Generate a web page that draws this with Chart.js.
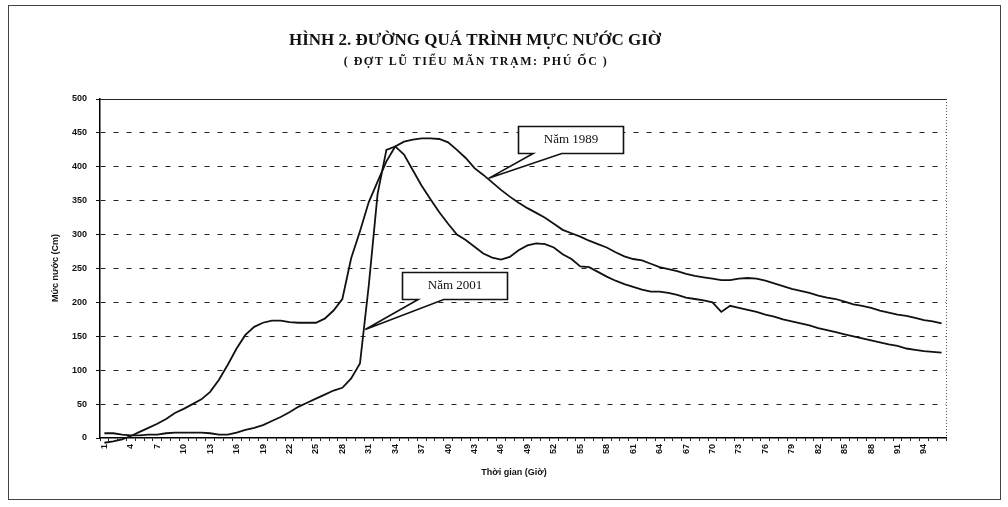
<!DOCTYPE html>
<html><head><meta charset="utf-8">
<script src="https://cdn.jsdelivr.net/npm/chart.js@4.4.0/dist/chart.umd.min.js"></script>
<style>html,body{margin:0;padding:0;background:#fff}#wrap{width:1008px;height:507px}</style>
</head><body><div id="wrap"><canvas id="c" width="1008" height="507"></canvas></div>
<script>
const hours = ['1','2','3','4','5','6','7','8','9','10','11','12','13','14','15','16','17','18','19','20',
  '21','22','23','24','25','26','27','28','29','30','31','32','33','34','35','36','37','38','39','40',
  '41','42','43','44','45','46','47','48','49','50','51','52','53','54','55','56','57','58','59','60',
  '61','62','63','64','65','66','67','68','69','70','71','72','73','74','75','76','77','78','79','80',
  '81','82','83','84','85','86','87','88','89','90','91','92','93','94','95','96'];
const tickLabels = ['1','4','7','10','13','16','19','22','25','28','31','34','37','40','43','46','49','52',
  '55','58','61','64','67','70','73','76','79','82','85','88','91','94'];
const level1989 = [-7,-5,-2,3,9,15,21,28,37,43,50,57,68,86,108,132,152,164,170,173,
  173,171,170,170,170,176,188,205,265,305,348,378,408,430,437,440,442,442,441,436,
  425,413,398,388,377,366,356,347,339,332,325,316,307,302,297,291,286,281,274,268,
  264,262,257,252,249,246,242,239,237,235,233,233,235,236,235,232,228,224,220,217,
  214,210,207,205,201,197,195,192,188,185,182,180,177,174,172,169];
const level2001 = [7,7,5,4,4,5,5,7,8,8,8,8,7,5,5,8,12,15,19,25,
  31,38,46,52,58,64,70,74,88,110,225,360,425,430,418,395,372,352,333,316,
  300,292,282,272,266,263,267,277,284,287,286,281,271,264,253,252,245,238,232,227,
  223,219,216,216,214,211,207,205,203,200,186,195,192,189,186,182,179,175,172,169,
  166,162,159,156,153,150,147,144,141,138,136,132,130,128,127,126];
const yTickValues = [0,50,100,150,200,250,300,350,400,450,500];
const titleText = 'HÌNH 2. ĐƯỜNG QUÁ TRÌNH MỰC NƯỚC GIỜ';
const subtitleText = '( ĐỢT LŨ TIỂU MÃN TRẠM: PHÚ ỐC )';
const xTitle = 'Thời gian (Giờ)';
const yTitle = 'Mức nước (Cm)';
const calloutTexts = ['Năm 1989', 'Năm 2001'];
// callout anchors in data units: [hour, level]
const calloutBox = [[53.85, 440], [40.7, 224.5]];
const calloutTip = [[44.6, 383], [30.6, 160]];
const calloutBase = [[49.65, 52.9], [36.6, 39.5]];

const deco = {
  id: 'deco',
  beforeDatasetsDraw(chart) {
    const {ctx, chartArea: a} = chart;
    ctx.save();
    // top border of plot
    ctx.strokeStyle = '#222'; ctx.lineWidth = 1.2; ctx.setLineDash([]);
    ctx.beginPath(); ctx.moveTo(a.left, a.top + 0.5); ctx.lineTo(a.right, a.top + 0.5); ctx.stroke();
    // right dotted border
    ctx.strokeStyle = '#555'; ctx.lineWidth = 1; ctx.setLineDash([1, 2]);
    ctx.beginPath(); ctx.moveTo(a.right + 0.5, a.top); ctx.lineTo(a.right + 0.5, a.bottom); ctx.stroke();
    ctx.restore();
  },
  afterDraw(chart) {
    const {ctx, chartArea: a, scales} = chart;
    const xs = scales.x, ys = scales.y;
    ctx.save();
    // outer frame
    ctx.strokeStyle = '#444'; ctx.lineWidth = 1; ctx.setLineDash([]);
    ctx.strokeRect(8.5, 5.5, 992, 494);
    // titles
    ctx.fillStyle = '#111'; ctx.textAlign = 'center'; ctx.textBaseline = 'middle';
    ctx.font = 'bold 17px "Liberation Serif"';
    ctx.fillText(titleText, 475, 41);
    ctx.font = 'bold 12px "Liberation Serif"';
    try { ctx.letterSpacing = '1.5px'; } catch (e) {}
    ctx.fillText(subtitleText, 476, 62);
    try { ctx.letterSpacing = '0px'; } catch (e) {}
    // axis titles
    ctx.font = 'bold 9px "Liberation Sans"';
    ctx.fillText(xTitle, 514, 473);
    ctx.save();
    ctx.translate(56, 268); ctx.rotate(-Math.PI / 2);
    ctx.fillText(yTitle, 0, 0);
    ctx.restore();
    // callouts
    const W = 105, H = 27;
    for (let i = 0; i < calloutTexts.length; i++) {
      const cx = xs.getPixelForValue(calloutBox[i][0] - 1);
      const cy = ys.getPixelForValue(calloutBox[i][1]);
      const tx = xs.getPixelForValue(calloutTip[i][0] - 1);
      const ty = ys.getPixelForValue(calloutTip[i][1]);
      const b1 = xs.getPixelForValue(calloutBase[i][0] - 1);
      const b2 = xs.getPixelForValue(calloutBase[i][1] - 1);
      const L = Math.round(cx - W / 2) + 0.5, T = Math.round(cy - H / 2) + 0.5;
      const R = L + W, B = T + H;
      ctx.beginPath();
      ctx.moveTo(L, T); ctx.lineTo(R, T); ctx.lineTo(R, B);
      ctx.lineTo(b2, B); ctx.lineTo(tx, ty); ctx.lineTo(b1, B);
      ctx.lineTo(L, B); ctx.closePath();
      ctx.fillStyle = '#fff'; ctx.fill();
      ctx.strokeStyle = '#111'; ctx.lineWidth = 1.6; ctx.lineJoin = 'miter';
      ctx.stroke();
      ctx.fillStyle = '#111';
      ctx.font = '13px "Liberation Serif"';
      ctx.textAlign = 'center'; ctx.textBaseline = 'middle';
      ctx.fillText(calloutTexts[i], (L + R) / 2, (T + B) / 2);
    }
    ctx.restore();
  }
};

new Chart(document.getElementById('c'), {
  type: 'line',
  data: {
    labels: hours,
    datasets: [
      {label: 'Năm 1989', data: level1989, borderColor: '#111', borderWidth: 1.8, pointRadius: 0, tension: 0, clip: false, fill: false},
      {label: 'Năm 2001', data: level2001, borderColor: '#111', borderWidth: 1.8, pointRadius: 0, tension: 0, clip: false, fill: false}
    ]
  },
  options: {
    responsive: false, animation: false, devicePixelRatio: 1,
    layout: {padding: {left: 0, right: 62, top: 99, bottom: 0}},
    plugins: {legend: {display: false}, tooltip: {enabled: false}, title: {display: false}},
    scales: {
      x: {
        type: 'category', offset: true,
        grid: {drawOnChartArea: false, offset: true, tickLength: 3, tickColor: '#222', color: '#222'},
        border: {display: true, color: '#000', width: 1.5},
        ticks: {
          autoSkip: false, minRotation: 90, maxRotation: 90, padding: 3, color: '#111',
          font: {family: 'Liberation Sans', size: 9, weight: 'bold'},
          callback: function (v) { const l = this.getLabelForValue(v); return tickLabels.includes(l) ? l : ''; }
        },
        afterFit(s) { s.height = 69; }
      },
      y: {
        min: 0, max: 500,
        afterBuildTicks(s) { s.ticks = yTickValues.map(v => ({value: v})); },
        ticks: {padding: 9, color: '#111', font: {family: 'Liberation Sans', size: 9, weight: 'bold'}},
        grid: {
          color: (c) => (c.tick && (c.tick.value === 0 || c.tick.value === 500)) ? 'rgba(0,0,0,0)' : '#222',
          lineWidth: 1, tickColor: '#111', tickLength: 4
        },
        border: {display: true, color: '#000', width: 1.5, dash: [5, 8]},
        afterFit(s) { s.width = 100; }
      }
    }
  },
  plugins: [deco]
});
</script>
</body></html>
